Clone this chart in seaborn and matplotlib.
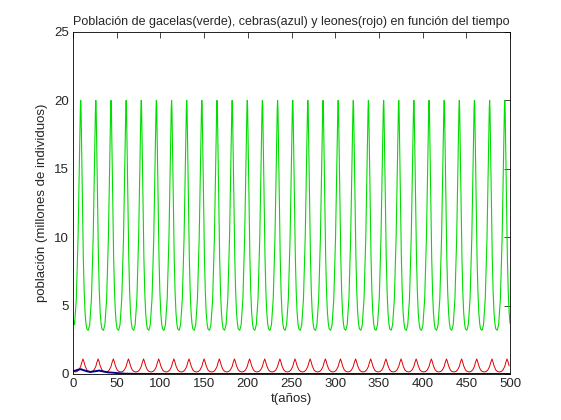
import numpy as np
import pandas as pd
import seaborn as sns
import matplotlib
matplotlib.use('Agg')
import matplotlib.pyplot as plt

# peak times of the gazelle cycle (years)
green_peaks = list(np.round(np.linspace(8.8, 494.0, 29), 1))
# one gazelle cycle, offsets from the peak (years) and population
green_off = [-8.6, -7, -5, -3, -2, -1, -0.4, 0, 0.4, 1, 2, 3, 4, 5, 6, 7, 8.6]
green_val = [3.2, 3.6, 5.5, 10.0, 13.5, 17.2, 19.4, 20.0, 19.4, 17.0, 12.5, 8.5, 6.0, 4.5, 3.7, 3.3, 3.2]
# lion cycle, offsets from the gazelle peak
red_off = [-6.1, -4, -2, 0, 1, 2, 2.6, 3.5, 5, 7, 9, 11.1]
red_val = [0.15, 0.18, 0.3, 0.55, 0.8, 1.0, 1.1, 0.95, 0.6, 0.3, 0.18, 0.15]
# zebras
blue_t = [0, 3, 6, 9, 12, 16, 20, 25, 30, 35, 40, 45, 50, 55, 60, 70, 100, 200, 300, 400, 500]
blue_v = [0.2, 0.25, 0.32, 0.35, 0.28, 0.2, 0.15, 0.2, 0.25, 0.18, 0.12, 0.1, 0.07, 0.04, 0.02, 0.01, 0.0, 0.0, 0.0, 0.0, 0.0]


def series(peaks, off, val, start):
    t, v = [0.0], [start]
    for p in peaks:
        for o, y in zip(off, val):
            if 1.5 < p + o <= 500:
                t.append(p + o)
                v.append(y)
    return pd.DataFrame({'t': t, 'v': v}).sort_values('t')


green = series(green_peaks, green_off, green_val, 4.0)
red = series(green_peaks, red_off, red_val, 0.2)
blue = pd.DataFrame({'t': blue_t, 'v': blue_v})

sns.set_style('white')
plt.rcParams['font.family'] = ['Liberation Sans', 'DejaVu Sans']
plt.rcParams['xtick.direction'] = 'in'
plt.rcParams['ytick.direction'] = 'in'

fig = plt.figure(figsize=(5.61, 4.2), dpi=100)
ax = fig.add_axes([73 / 561, 46 / 420, 437 / 561, 342 / 420])
sns.lineplot(data=green, x='t', y='v', color='#00dd00', lw=0.8, ax=ax)
sns.lineplot(data=red, x='t', y='v', color='#dd0000', lw=0.7, ax=ax)
sns.lineplot(data=blue, x='t', y='v', color='#000088', lw=1.4, ax=ax)

ax.set_xlim(0, 500)
ax.set_ylim(0, 25)
ax.set_xticks(range(0, 501, 50))
ax.set_yticks(range(0, 26, 5))
ax.tick_params(labelsize=9.5, length=4, width=0.6, top=True, right=True, pad=3)
for s in ax.spines.values():
    s.set_linewidth(0.6)
    s.set_color('black')
ax.set_xlabel('t(años)', fontsize=9.5, labelpad=2)
ax.set_ylabel('población (millones de individuos)', fontsize=9.5, labelpad=4)
ax.set_title('Población de gacelas(verde), cebras(azul) y leones(rojo) en función del tiempo',
             fontsize=9, pad=5)
fig.savefig('out.png', dpi=100)
